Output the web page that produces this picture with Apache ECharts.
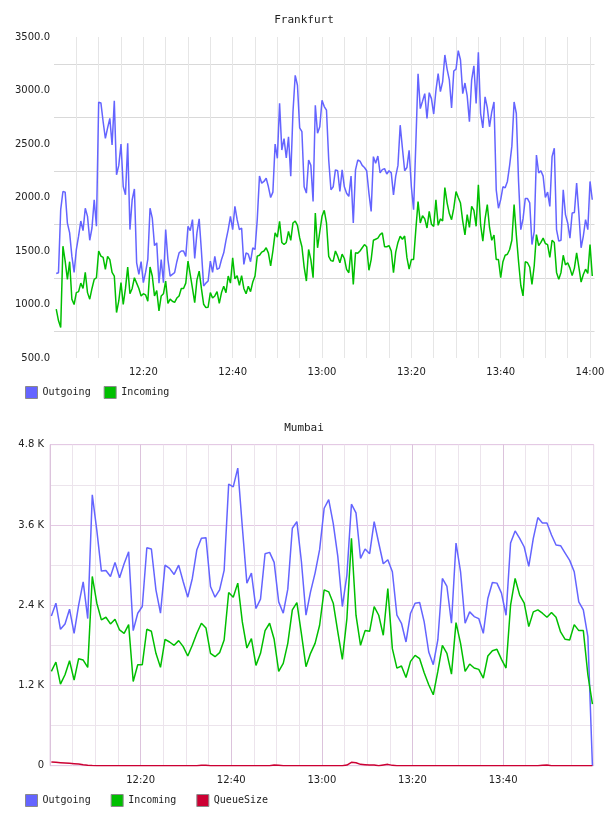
<!DOCTYPE html>
<html>
<head>
<meta charset="utf-8">
<title>Frankfurt / Mumbai</title>
<script src="https://cdn.jsdelivr.net/npm/echarts@6.0.0/dist/echarts.min.js"></script>
<style>
  html, body { margin: 0; padding: 0; background: #fff; }
  .chart { width: 608px; height: 408px; }
</style>
</head>
<body>
<div id="frankfurt" class="chart"></div>
<div id="mumbai" class="chart"></div>
<script>
// time is kept as minutes after 12:00
const timeTickLabels = ["12:00", "12:20", "12:40", "13:00", "13:20", "13:40", "14:00"];

// Frankfurt, one sample every 30 s
const frankfurtStart = 0.5;
const frankfurtStep = 0.5;
const frankfurtOutgoing = [
  1290, 1297, 1886, 2056, 2050, 1760, 1669, 1452, 1300, 1514,
  1638, 1780, 1690, 1900, 1824, 1600, 1715, 1979, 1731, 2890,
  2884, 2708, 2553, 2650, 2739, 2491, 2903, 2212, 2300, 2500,
  2103, 2025, 2506, 1700, 1979, 2080, 1390, 1282, 1400, 1204,
  1300, 1421, 1900, 1808, 1550, 1576, 1200, 1421, 1204, 1700,
  1420, 1266, 1282, 1297, 1400, 1483, 1500, 1500, 1450, 1731,
  1690, 1793, 1430, 1669, 1800, 1500, 1173, 1200, 1220, 1405,
  1300, 1450, 1328, 1340, 1421, 1483, 1600, 1700, 1824, 1700,
  1917, 1793, 1700, 1715, 1374, 1483, 1470, 1400, 1530, 1514,
  1793, 2200, 2134, 2150, 2180, 2100, 2000, 2050, 2500, 2366,
  2880, 2444, 2550, 2370, 2568, 2200, 2801, 3142, 3049, 2650,
  2615, 2100, 2041, 2350, 2300, 1963, 2862, 2600, 2661, 2909,
  2850, 2816, 2350, 2072, 2100, 2258, 2250, 2056, 2258, 2100,
  2040, 2010, 2200, 1762, 2258, 2350, 2340, 2300, 2280, 2250,
  2041, 1870, 2382, 2320, 2388, 2230, 2260, 2270, 2220, 2250,
  2230, 2025, 2200, 2300, 2676, 2460, 2250, 2280, 2440, 2100,
  1886, 2500, 3157, 2831, 2900, 2971, 2738, 2980, 2924, 2780,
  3000, 3157, 2990, 3080, 3332, 3200, 3100, 2836, 3182, 3200,
  3372, 3285, 2971, 3070, 2950, 2708, 3100, 3230, 2878, 3357,
  2785, 2650, 2940, 2840, 2661, 2800, 2893, 2072, 1900, 1980,
  2100, 2090, 2150, 2300, 2480, 2893, 2785, 2150, 1700, 1800,
  1990, 1990, 1950, 1560, 1680, 2397, 2230, 2250, 2200, 2000,
  2050, 1917, 2382, 2460, 1700, 1592, 1600, 2072, 1840, 1762,
  1620, 1855, 1860, 2134, 1850, 1530, 1640, 1793, 1700, 2150,
  1979
];
const frankfurtIncoming = [
  956, 850, 785, 1545, 1405, 1235, 1400, 1050, 1000, 1111,
  1120, 1200, 1150, 1300, 1111, 1050, 1150, 1235, 1250, 1500,
  1452, 1440, 1328, 1450, 1420, 1300, 1266, 925, 1033, 1204,
  1000, 1150, 1350, 1100, 1150, 1250, 1200, 1150, 1080, 1100,
  1090, 1030, 1350, 1266, 1080, 1130, 940, 1080, 1100, 1219,
  1010, 1050, 1030, 1020, 1060, 1080, 1150, 1150, 1200, 1405,
  1280, 1150, 1018, 1230, 1312, 1150, 1002, 971, 975, 1111,
  1060, 1080, 1120, 1010, 1111, 1170, 1110, 1266, 1200, 1436,
  1240, 1270, 1180, 1270, 1150, 1100, 1170, 1120, 1210, 1266,
  1452, 1460, 1490, 1500, 1530, 1480, 1360, 1500, 1669, 1630,
  1777, 1580, 1560, 1580, 1684, 1600, 1762, 1780, 1740, 1622,
  1540, 1350, 1219, 1514, 1420, 1250, 1855, 1530, 1680, 1824,
  1880, 1762, 1450, 1410, 1405, 1500, 1452, 1390, 1470, 1430,
  1328, 1297, 1514, 1188, 1483, 1480, 1500, 1530, 1560, 1540,
  1320, 1420, 1600, 1610, 1620, 1653, 1669, 1540, 1540, 1550,
  1500, 1297, 1490, 1580, 1638, 1610, 1640, 1440, 1330, 1420,
  1420, 1700, 1963, 1762, 1830, 1800, 1715, 1870, 1750, 1730,
  1979, 1740, 1800, 1780, 2092, 1950, 1850, 1793, 1900, 2055,
  2000, 1948, 1780, 1650, 1840, 1720, 1917, 1880, 1731, 2118,
  1746, 1592, 1800, 1933, 1720, 1600, 1650, 1421, 1420, 1250,
  1400, 1460, 1470, 1514, 1600, 1933, 1650, 1400, 1180, 1080,
  1400, 1390, 1350, 1188, 1360, 1653, 1550, 1580, 1620, 1570,
  1560, 1440, 1600, 1580, 1300, 1235, 1300, 1460, 1370, 1390,
  1340, 1270, 1340, 1483, 1350, 1210, 1280, 1330, 1290, 1560,
  1266
];

// Mumbai, one sample roughly every minute
const mumbaiStart = 0.3;
const mumbaiStep = 1.0035;
const mumbaiOutgoing = [
  2240, 2430, 2040, 2120, 2340, 1980, 2400, 2750, 2200, 4050,
  3520, 2910, 2920, 2830, 3040, 2810, 3020, 3200, 2020, 2280,
  2380, 3260, 3240, 2630, 2280, 3000, 2950, 2860, 3000, 2750,
  2520, 2800, 3230, 3400, 3410, 2680, 2520, 2630, 2920, 4210,
  4170, 4450, 3570, 2730, 2880, 2350, 2490, 3170, 3190, 3040,
  2450, 2280, 2640, 3550, 3650, 3050, 2250, 2600, 2880, 3230,
  3850, 3980, 3620, 3130, 2380, 2850, 3910, 3780, 3100, 3240,
  3170, 3650, 3330, 3020, 3080, 2900, 2250, 2130, 1850, 2280,
  2430, 2440, 2150, 1700, 1510, 1880, 2800, 2680, 2130, 3330,
  2900, 2130, 2300, 2230, 2200, 1980, 2500, 2740, 2730, 2580,
  2250, 3330, 3510, 3400, 3270, 2980, 3400, 3710, 3630, 3630,
  3450, 3300, 3290, 3180, 3070, 2900, 2450, 2330, 1930, 0
];
const mumbaiIncoming = [
  1410, 1550, 1220, 1360, 1570, 1280, 1600, 1580, 1470, 2830,
  2430, 2180, 2220, 2120, 2190, 2030, 1980, 2110, 1260, 1510,
  1510, 2040, 2010, 1680, 1470, 1890, 1850, 1800, 1870, 1780,
  1640, 1800, 1980, 2130, 2060, 1680, 1630, 1690, 1880, 2590,
  2520, 2730, 2150, 1760, 1900, 1500, 1680, 2020, 2130, 1890,
  1410, 1530, 1830, 2330, 2440, 1970, 1480, 1680, 1830, 2100,
  2630, 2600, 2430, 2000, 1590, 2200, 3400, 2250, 1800, 2020,
  2010, 2380, 2250, 1950, 2650, 1750, 1460, 1490, 1320, 1560,
  1650, 1600, 1390, 1210, 1060, 1410, 1800, 1680, 1370, 2140,
  1830, 1410, 1520, 1460, 1440, 1310, 1640, 1720, 1740, 1590,
  1460, 2400, 2800, 2550, 2430, 2080, 2300, 2330, 2280, 2220,
  2290, 2220, 2000, 1890, 1880, 2110, 2020, 2020, 1360, 920
];
const mumbaiQueueSize = [
  55, 50, 45, 40, 35, 30, 25, 15, 8, 3,
  0, 0, 0, 0, 0, 0, 0, 0, 0, 0,
  0, 0, 0, 0, 0, 0, 0, 0, 0, 0,
  0, 0, 0, 5, 8, 0, 0, 0, 0, 0,
  0, 0, 0, 0, 0, 0, 0, 0, 0, 12,
  8, 0, 0, 0, 0, 0, 0, 0, 0, 0,
  0, 0, 0, 0, 0, 10, 50, 45, 20, 15,
  10, 10, 0, 12, 20, 5, 0, 0, 0, 0,
  0, 0, 0, 0, 0, 0, 0, 0, 0, 0,
  0, 0, 0, 0, 0, 0, 0, 0, 0, 0,
  0, 0, 0, 0, 0, 0, 0, 0, 8, 10,
  0, 0, 0, 0, 0, 0, 0, 0, 0, 0
];
const mumbaiYTickLabels = ["0", "1.2 K", "2.4 K", "3.6 K", "4.8 K"];

const palette = {
  outgoing: "#6464ff",
  incoming: "#00bf00",
  queue: "#cc0033",
  text: "#222222",
};

const labelFont = { fontFamily: "DejaVu Sans", fontSize: 10, color: palette.text };
const monoFont = { fontFamily: "DejaVu Sans Mono", fontSize: 10, color: palette.text };

const withTimes = (values, start, step) =>
  values.map((v, i) => [start + i * step, v]);

// only 20-minute marks get a label, never at the axis ends
const timeLabel = (hideAt) => (value) => {
  if (value % 20 !== 0 || value === 0 || value === hideAt) return "";
  return timeTickLabels[value / 20] || "";
};

const lineSeries = (name, color, data) => ({
  name,
  type: "line",
  data,
  showSymbol: false,
  symbol: "none",
  lineStyle: { color, width: 1.5 },
  itemStyle: { color },
  emphasis: { disabled: true },
});

const legendFor = (names, itemGap) => ({
  data: names,
  left: 25,
  top: 386,
  padding: 0,
  itemWidth: 12,
  itemHeight: 12,
  itemGap,
  icon: "rect",
  itemStyle: { borderColor: "#8a8a8a", borderWidth: 1 },
  textStyle: monoFont,
});

const titleFor = (text) => ({
  text,
  left: "center",
  top: 15,
  padding: 0,
  textStyle: { ...monoFont, fontSize: 11, fontWeight: "normal" },
});

/* ---------------- Frankfurt ---------------- */
const chartTop = echarts.init(document.getElementById("frankfurt"));
chartTop.setOption({
  animation: false,
  backgroundColor: "#fff",
  title: titleFor("Frankfurt"),
  legend: legendFor(["Outgoing", "Incoming"], 13),
  grid: { left: 54, right: 13.5, top: 37, bottom: 50, outerBoundsMode: "none" },
  xAxis: {
    type: "value",
    min: 0,
    max: 121,
    interval: 20,
    axisLine: { show: false },
    axisTick: { show: false },
    axisLabel: { ...labelFont, margin: 9, formatter: timeLabel(-1) },
    splitLine: {
      show: true,
      showMinLine: false,
      showMaxLine: false,
      lineStyle: { color: "#e6e6e6", width: 1 },
    },
    minorTick: { show: false, splitNumber: 4 },
    minorSplitLine: { show: true, lineStyle: { color: "#e6e6e6", width: 1 } },
  },
  yAxis: {
    type: "value",
    min: 500,
    max: 3500,
    interval: 500,
    axisLine: { show: false },
    axisTick: { show: false },
    axisLabel: { ...labelFont, margin: 4, formatter: (v) => v.toFixed(1) },
    splitLine: { show: false },
    minorTick: { show: false, splitNumber: 2 },
    minorSplitLine: { show: true, lineStyle: { color: "#d9d9d9", width: 1 } },
  },
  series: [
    lineSeries("Outgoing", palette.outgoing, withTimes(frankfurtOutgoing, frankfurtStart, frankfurtStep)),
    lineSeries("Incoming", palette.incoming, withTimes(frankfurtIncoming, frankfurtStart, frankfurtStep)),
  ],
});

/* ---------------- Mumbai ---------------- */
const chartBottom = echarts.init(document.getElementById("mumbai"));
chartBottom.setOption({
  animation: false,
  backgroundColor: "#fff",
  title: titleFor("Mumbai"),
  legend: legendFor(["Outgoing", "Incoming", "QueueSize"], 20),
  grid: {
    left: 50,
    right: 14.3,
    top: 36.7,
    bottom: 50.3,
    show: true,
    borderColor: "#e6d2e6",
    borderWidth: 1,
    outerBoundsMode: "none",
  },
  xAxis: {
    type: "value",
    min: 0,
    max: 120,
    interval: 20,
    axisLine: { show: false },
    axisTick: { show: false },
    axisLabel: { ...labelFont, margin: 10, formatter: timeLabel(120) },
    splitLine: {
      show: true,
      showMinLine: false,
      showMaxLine: false,
      lineStyle: { color: "#dcc3dc", width: 1 },
    },
    minorTick: { show: false, splitNumber: 4 },
    minorSplitLine: { show: true, lineStyle: { color: "#ece4ec", width: 1 } },
  },
  yAxis: {
    type: "value",
    min: 0,
    max: 4800,
    interval: 1200,
    axisLine: { show: true, lineStyle: { color: "#dcc3dc", width: 1 } },
    axisTick: { show: false },
    axisLabel: {
      ...labelFont,
      margin: 6,
      formatter: (v) => mumbaiYTickLabels[Math.round(v / 1200)],
    },
    splitLine: { show: true, lineStyle: { color: "#e4cae4", width: 1 } },
    minorTick: { show: false, splitNumber: 2 },
    minorSplitLine: { show: true, lineStyle: { color: "#ece4ec", width: 1 } },
  },
  series: [
    lineSeries("Outgoing", palette.outgoing, withTimes(mumbaiOutgoing, mumbaiStart, mumbaiStep)),
    lineSeries("Incoming", palette.incoming, withTimes(mumbaiIncoming, mumbaiStart, mumbaiStep)),
    lineSeries("QueueSize", palette.queue, withTimes(mumbaiQueueSize, mumbaiStart, mumbaiStep)),
  ],
});
</script>
</body>
</html>
